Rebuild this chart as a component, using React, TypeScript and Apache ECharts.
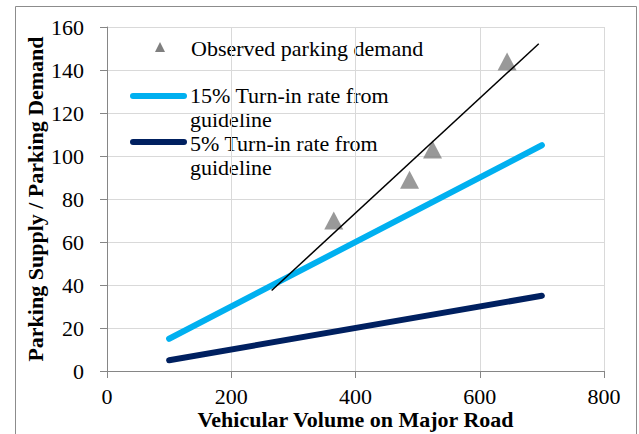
import React, { useEffect, useRef } from "react";
import * as echarts from "echarts";

const observedX = [365, 487, 524, 644];
const observedY = [70, 89, 103, 144];
const guideX = [100, 700];
const guide15 = [15, 105];
const guide5 = [5, 35];
const trendXRange = [265, 695];
const legendLabels = [
  "Observed parking demand",
  "15% Turn-in rate from\nguideline",
  "5% Turn-in rate from\nguideline",
];
const xTitle = "Vehicular Volume on Major Road";
const yTitle = "Parking Supply / Parking Demand";

function fitLine(xs: number[], ys: number[]) {
  const n = xs.length;
  const mx = xs.reduce((a, b) => a + b, 0) / n;
  const my = ys.reduce((a, b) => a + b, 0) / n;
  let sxy = 0, sxx = 0;
  for (let i = 0; i < n; i++) {
    sxy += (xs[i] - mx) * (ys[i] - my);
    sxx += (xs[i] - mx) ** 2;
  }
  const slope = sxy / sxx;
  return { slope, intercept: my - slope * mx };
}

export default function App() {
  const ref = useRef<HTMLDivElement>(null);
  useEffect(() => {
    const chart = echarts.init(ref.current!, null, { renderer: "svg" });
    const fit = fitLine(observedX, observedY);
    const trend = trendXRange.map((x) => [x, fit.slope * x + fit.intercept]);
    const font = "Liberation Serif";
    const legendText = (text: string, x: number, y: number) => ({
      type: "text",
      x,
      y,
      style: {
        text,
        fontFamily: font,
        fontSize: 22,
        fill: "#000",
        verticalAlign: "top",
        lineHeight: 24,
      },
    });
    chart.setOption({
      animation: false,
      backgroundColor: "#ffffff",
      textStyle: { fontFamily: font },
      grid: { left: 107, right: 35, top: 27, bottom: 63, containLabel: false, outerBoundsMode: "none" },
      xAxis: {
        type: "value",
        min: 0,
        max: 800,
        interval: 200,
        name: xTitle,
        nameLocation: "middle",
        nameGap: 37,
        nameMoveOverlap: false,
        nameTextStyle: { fontFamily: font, fontWeight: "bold", fontSize: 22, color: "#000" },
        axisLine: { show: true, lineStyle: { color: "#868686" } },
        axisTick: { show: true, length: 7, lineStyle: { color: "#868686" } },
        axisLabel: { fontFamily: font, fontSize: 22, color: "#000", margin: 14 },
        splitLine: { show: true, lineStyle: { color: "#D9D9D9" } },
      },
      yAxis: {
        type: "value",
        min: 0,
        max: 160,
        interval: 20,
        name: yTitle,
        nameLocation: "middle",
        nameGap: 61,
        nameMoveOverlap: false,
        nameRotate: 90,
        nameTextStyle: { fontFamily: font, fontWeight: "bold", fontSize: 22, color: "#000" },
        axisLine: { show: true, lineStyle: { color: "#868686" } },
        axisTick: { show: true, length: 7, lineStyle: { color: "#868686" } },
        axisLabel: { fontFamily: font, fontSize: 22, color: "#000", margin: 23 },
        splitLine: { show: true, lineStyle: { color: "#D9D9D9" } },
      },
      series: [
        {
          type: "line",
          data: guideX.map((x, i) => [x, guide15[i]]),
          symbol: "none",
          lineStyle: { color: "#00B0F0", width: 6, cap: "round" },
          z: 2,
        },
        {
          type: "line",
          data: guideX.map((x, i) => [x, guide5[i]]),
          symbol: "none",
          lineStyle: { color: "#002060", width: 6, cap: "round" },
          z: 2,
        },
        {
          type: "scatter",
          data: observedX.map((x, i) => [x, observedY[i]]),
          symbol: "triangle",
          symbolSize: [19, 18],
          itemStyle: { color: "#7F7F7F" },
          z: 3,
        },
        {
          type: "line",
          data: trend,
          symbol: "none",
          lineStyle: { color: "#000000", width: 1.5 },
          z: 4,
        },
      ],
      graphic: [
        {
          type: "rect",
          shape: { x: 15.5, y: 6.5, width: 621, height: 440 },
          style: { fill: "none", stroke: "#8C8C8C", lineWidth: 1 },
          silent: true,
        },
        {
          type: "polygon",
          shape: { points: [[160, 42], [165, 52], [155, 52]] },
          style: { fill: "#7F7F7F" },
        },
        legendText(legendLabels[0], 191, 36),
        {
          type: "line",
          shape: { x1: 133, y1: 96, x2: 184, y2: 96 },
          style: { stroke: "#00B0F0", lineWidth: 6, lineCap: "round" },
        },
        legendText(legendLabels[1], 190, 83.5),
        {
          type: "line",
          shape: { x1: 133, y1: 142, x2: 184, y2: 142 },
          style: { stroke: "#002060", lineWidth: 6, lineCap: "round" },
        },
        legendText(legendLabels[2], 190, 131),
      ],
    });
    return () => chart.dispose();
  }, []);
  return (
    <div
      ref={ref}
      style={{ position: "fixed", left: 0, top: 0, width: 639, height: 434 }}
    />
  );
}
